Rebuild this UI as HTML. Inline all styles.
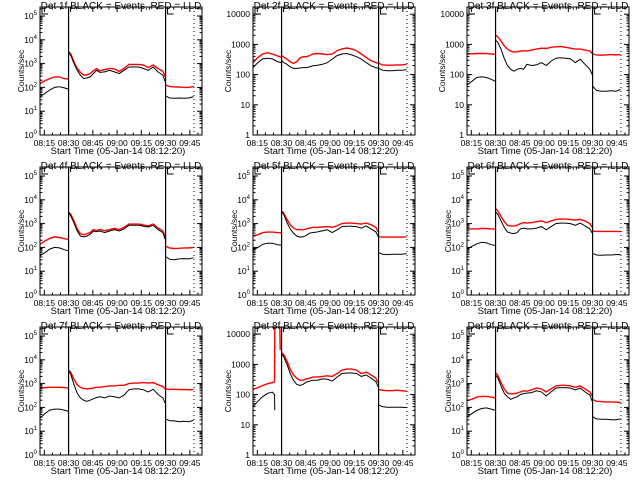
<!DOCTYPE html>
<html><head><meta charset="utf-8">
<style>
html,body{margin:0;padding:0;background:#fff;}
svg{display:block;font-family:"Liberation Sans",sans-serif;}
</style></head>
<body>
<svg id="chart" width="640" height="480" viewBox="0 0 640 480" xmlns="http://www.w3.org/2000/svg">
<rect x="0" y="0" width="640" height="480" fill="#fff"/>
</svg>
<script>
// time samples (minutes after 08:12:20)
const preT  = [0,3,6,9,12,15,17.5];
const mainT = [17.9,19,21,23,25,27,29,31,33,35,37,40,43,46,49,52,55,58,61,64,67,70,73,76,77.4];
const postT = [78,80,83,86,89,92,95];
const xTickLabels = ['08:15','08:30','08:45','09:00','09:15','09:30','09:45'];
const xTickTimes = [2.67,17.67,32.67,47.67,62.67,77.67,92.67];
const detNames = ['1f','2f','3f','4f','5f','6f','7f','8f','9f'];
const axisStyle = ['pow','num','num','pow','pow','pow','pow','num','pow'];

// Det 1f
const p1PreR=[145,190,235,275,275,235,225], p1PreB=[41,56,78,100,107,95,85];
const p1MainB=[2630,2240,1000,525,325,235,250,275,380,525,425,450,525,450,380,525,720,720,720,620,525,720,450,325,170];
const p1MainR=[3100,2600,1170,620,430,325,340,380,500,620,500,560,630,600,470,630,930,930,930,870,680,870,620,480,280];
const p1PostR=[125,110,105,105,100,100,110], p1PostB=[43,36,35,36,35,36,41];
// Det 2f
const p2PreR=[250,370,480,530,480,420,370], p2PreB=[170,250,330,350,330,270,250];
const p2MainR=[425,380,325,265,235,265,355,390,390,425,480,500,480,460,480,620,710,760,710,620,480,370,290,250,235];
const p2MainB=[290,250,220,180,160,160,165,170,170,180,195,205,220,250,325,425,480,500,450,390,325,250,195,170,160];
const p2PostR=[235,210,205,205,210,210,220], p2PostB=[160,140,135,135,140,140,145];
// Det 3f
const p3PreR=[480,490,500,500,500,480,470], p3PreB=[45,60,80,85,80,70,60];
const p3MainR=[2000,1800,1300,900,700,600,560,570,600,620,600,650,700,750,730,800,830,850,800,750,700,700,650,600,500];
const p3MainB=[1350,1200,700,350,200,150,130,150,160,150,220,200,210,250,200,280,350,360,350,330,250,320,220,150,100];
const p3PostR=[480,450,440,450,460,450,460], p3PostB=[40,30,28,28,29,28,32];
// Det 4f
const p4PreR=[135,185,240,275,260,235,215], p4PreB=[45,60,85,100,95,80,72];
const p4MainB=[2750,2100,1070,490,300,280,300,355,490,460,490,420,490,560,490,600,850,850,850,780,720,850,560,420,220];
const p4MainR=[3000,2500,1300,600,380,340,380,420,560,520,560,500,560,630,560,700,950,950,950,880,800,950,650,500,270];
const p4PostR=[110,95,90,92,95,95,100], p4PostB=[40,32,30,33,34,33,37];
// Det 5f
const p5PreR=[310,340,420,440,440,420,410], p5PreB=[77,100,135,150,150,130,125];
const p5MainR=[3300,2800,1500,900,650,560,560,550,600,650,700,700,720,750,700,800,1000,1050,1050,1000,950,1050,900,700,450];
const p5MainB=[3000,2500,1100,600,400,300,270,280,320,400,420,450,500,550,420,550,750,780,780,750,650,800,600,450,280];
const p5PostR=[280,270,270,270,270,270,275], p5PostB=[60,52,50,52,52,52,55];
// Det 6f
const p6PreR=[600,600,600,620,620,600,580], p6PreB=[87,110,140,165,155,130,120];
const p6MainR=[4200,3500,2000,1200,850,800,800,850,1000,1100,1050,1100,1200,1300,1100,1300,1500,1550,1550,1500,1400,1500,1300,1000,700];
const p6MainB=[3000,2500,1300,700,450,400,380,420,600,650,600,600,650,750,550,750,1000,1050,1050,1000,850,1050,800,600,400];
const p6PostR=[480,470,470,470,470,470,460], p6PostB=[55,48,47,48,48,50,50];
// Det 7f
const p7PreR=[640,680,700,700,700,680,640], p7PreB=[35,55,77,85,85,77,68];
const p7MainR=[3600,3000,1500,900,700,620,600,620,650,700,700,750,800,800,850,850,1000,1050,1050,1100,1050,1100,900,750,600];
const p7MainB=[3200,2500,900,400,250,200,180,200,230,260,280,250,300,280,250,330,550,600,600,550,450,580,350,250,150];
const p7PostR=[600,570,580,560,570,550,560], p7PostB=[32,28,27,25,26,25,29];
// Det 8f (has a spike before 08:30)
const p8PreRT=[0,3,6,9,12,13.3,13.5,16.6,16.8], p8PreR=[150,170,200,230,250,260,30000,30000,3000];
const p8PreBT=[0,3,6,9,12,13.3,13.5], p8PreB=[40,60,85,110,120,100,30];
const p8MainR=[2400,2100,1300,700,450,350,300,300,330,350,380,380,400,420,400,500,650,700,700,650,500,550,450,350,250];
const p8MainB=[2200,1800,1000,500,300,220,200,220,260,280,300,300,330,320,280,380,500,520,520,500,400,450,350,270,180];
const p8PostR=[145,140,135,135,140,135,130], p8PostB=[45,40,38,38,38,38,37];
// Det 9f
const p9PreR=[195,220,270,290,290,270,250], p9PreB=[40,55,74,90,95,85,75];
const p9MainR=[2800,2300,1100,600,400,370,380,400,450,500,480,550,650,600,450,600,800,850,850,800,700,800,600,450,300];
const p9MainB=[2200,1800,800,400,280,220,250,280,350,380,400,420,500,450,300,450,650,680,680,650,550,650,450,330,180];
const p9PostR=[210,180,175,170,170,165,160], p9PostB=[40,33,32,32,30,30,33];

const panels=[
 {pr:[preT,p1PreR],pb:[preT,p1PreB],mr:p1MainR,mb:p1MainB,qr:p1PostR,qb:p1PostB},
 {pr:[preT,p2PreR],pb:[preT,p2PreB],mr:p2MainR,mb:p2MainB,qr:p2PostR,qb:p2PostB},
 {pr:[preT,p3PreR],pb:[preT,p3PreB],mr:p3MainR,mb:p3MainB,qr:p3PostR,qb:p3PostB},
 {pr:[preT,p4PreR],pb:[preT,p4PreB],mr:p4MainR,mb:p4MainB,qr:p4PostR,qb:p4PostB},
 {pr:[preT,p5PreR],pb:[preT,p5PreB],mr:p5MainR,mb:p5MainB,qr:p5PostR,qb:p5PostB},
 {pr:[preT,p6PreR],pb:[preT,p6PreB],mr:p6MainR,mb:p6MainB,qr:p6PostR,qb:p6PostB},
 {pr:[preT,p7PreR],pb:[preT,p7PreB],mr:p7MainR,mb:p7MainB,qr:p7PostR,qb:p7PostB},
 {pr:[p8PreRT,p8PreR],pb:[p8PreBT,p8PreB],mr:p8MainR,mb:p8MainB,qr:p8PostR,qb:p8PostB},
 {pr:[preT,p9PreR],pb:[preT,p9PreB],mr:p9MainR,mb:p9MainB,qr:p9PostR,qb:p9PostB}
];

const NS='http://www.w3.org/2000/svg';
const svg=document.getElementById('chart');
const W=162,H=128,PXMIN=1.617;
const lefts=[40,253,467], tops=[7,167,327];
function mk(tag,attrs,parent){const e=document.createElementNS(NS,tag);for(const k in attrs)e.setAttribute(k,attrs[k]);(parent||svg).appendChild(e);return e;}

panels.forEach((p,i)=>{
  const L=lefts[i%3], T=tops[Math.floor(i/3)], B=T+H, R=L+W;
  const pow=axisStyle[i]==='pow';
  const perDec=pow?23.8:30.2;
  const xS=t=>L+t*PXMIN;
  const yS=v=>Math.max(T,Math.min(B,B-Math.log10(v)*perDec));
  const g=mk('g',{});
  
  
  const clipId='clip'+i;
  const cp=mk('clipPath',{id:clipId},g); mk('rect',{x:L,y:T,width:W,height:H},cp);
  const dg=mk('g',{'clip-path':'url(#'+clipId+')'},g);
  function line(ts,vs,color,name,sw){
    const pts=ts.map((t,k)=>xS(t).toFixed(1)+','+yS(vs[k]).toFixed(1)).join(' ');
    const pl=mk('polyline',{points:pts,fill:'none',stroke:color,'stroke-width':sw},dg);
    
    
  }
  line(p.pr[0],p.pr[1],'#ff0000','lld-line-pre',1.4);
  line(p.pb[0],p.pb[1],'#000','events-line-pre',1);
  line(mainT,p.mr,'#ff0000','lld-line-main',1.4);
  line(mainT,p.mb,'#000','events-line-main',1);
  line(postT,p.qr,'#ff0000','lld-line-post',1.4);
  line(postT,p.qb,'#000','events-line-post',1);
  [17.67,77.67].forEach(t=>{
    const v=mk('line',{x1:xS(t),x2:xS(t),y1:T,y2:B,stroke:'#000','stroke-width':1.2},g);
    
    
  });
  const dl=mk('line',{x1:L+154,x2:L+154,y1:T,y2:B,stroke:'#000','stroke-width':1,'stroke-dasharray':'1,3'},g);
  
  
  mk('polyline',{points:`${L+2},${T} ${L+2},${T+7} ${L+8},${T+7}`,fill:'none',stroke:'#000','stroke-width':1},g);
  mk('polyline',{points:`${xS(17.67)+2},${T+5} ${xS(17.67)+2},${T} ${xS(17.67)+5},${T}`,fill:'none',stroke:'#000','stroke-width':1},g);
  mk('polyline',{points:`${xS(77.67)+2},${T} ${xS(77.67)+2},${T+7} ${xS(77.67)+8},${T+7}`,fill:'none',stroke:'#000','stroke-width':1},g);
  const fr=mk('rect',{x:L,y:T,width:W,height:H,fill:'none',stroke:'#000','stroke-width':1},g);
  
  
  for(let t=2.67-15;t<101;t+=5){ if(t<0) continue;
    const maj=Math.abs(((t-2.67)/15)-Math.round((t-2.67)/15))<0.01;
    const len=maj?5:2.5; const x=xS(t); if(x>R) break;
    mk('line',{x1:x,x2:x,y1:B,y2:B-len,stroke:'#000','stroke-width':1},g);
    mk('line',{x1:x,x2:x,y1:T,y2:T+len,stroke:'#000','stroke-width':1},g);
  }
  xTickLabels.forEach((lab,k)=>{
    const tx=mk('text',{x:xS(xTickTimes[k]),y:B+11,'font-size':8.5,'text-anchor':'middle',fill:'#000'},g);
    tx.textContent=lab;
    
    
  });
  const maxDec=pow?5:4;
  for(let d=0;d<=maxDec+1;d++){
    for(let m=1;m<10;m++){
      const v=m*Math.pow(10,d); const y=B-Math.log10(v)*perDec; if(y<T) break;
      const len=m===1?5:2.5;
      mk('line',{x1:L,x2:L+len,y1:y,y2:y,stroke:'#000','stroke-width':1},g);
      mk('line',{x1:R,x2:R-len,y1:y,y2:y,stroke:'#000','stroke-width':1},g);
    }
  }
  for(let d=0;d<=maxDec;d++){
    const y=B-d*perDec+3;
    const tx=mk('text',{x:L-3,y:y,'font-size':8.5,'text-anchor':'end',fill:'#000'},g);
    if(pow){tx.textContent='10';const s=mk('tspan',{dy:-4,'font-size':6},tx);s.textContent=String(d);}
    else tx.textContent=String(Math.pow(10,d));
    
    
  }
  const tt=mk('text',{x:L+W/2,y:T+2,'font-size':10,'text-anchor':'middle',fill:'#000'},g);
  tt.textContent='Det '+detNames[i]+' BLACK = Events, RED = LLD';
  
  
  const xt=mk('text',{x:L+W/2-3,y:B+19,'font-size':9.5,'text-anchor':'middle',fill:'#000'},g);
  xt.textContent='Start Time (05-Jan-14 08:12:20)';
  
  
  const yx=L-(pow?16:22), yy=T+H/2;
  const yt=mk('text',{x:yx,y:yy,'font-size':8.5,'text-anchor':'middle',fill:'#000',transform:`rotate(-90 ${yx} ${yy})`},g);
  yt.textContent='Counts/sec';
  
  
});
</script>
</body></html>
